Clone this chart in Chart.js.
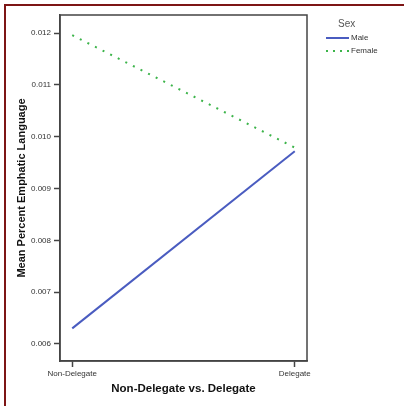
<!DOCTYPE html>
<html>
<head>
<meta charset="utf-8">
<script src="https://cdn.jsdelivr.net/npm/chart.js@4.4.1/dist/chart.umd.min.js"></script>
<style>
  html, body { margin: 0; padding: 0; background: #fff; }
  #wrap { position: relative; width: 404px; height: 406px; overflow: hidden; font-family: "Liberation Sans", Arial, sans-serif; }
  #frame { position: absolute; left: 4px; top: 4px; width: 420px; height: 420px;
           border-top: 2px solid #7d1515; border-left: 2px solid #7d1515; pointer-events: none; }
  #legend { position: absolute; left: 324px; top: 18px; font-size: 8px; color: #333; }
  #legend .title { position: absolute; left: 14px; top: 0; font-size: 10px; color: #555; }
  #legend .row { position: absolute; left: 0; height: 10px; white-space: nowrap; }
  #legend .row span { position: absolute; left: 27px; top: 0; line-height: 10px; }
  #legend .row i { position: absolute; left: 2px; top: 4px; width: 23px; height: 2px; }
</style>
</head>
<body>
<div id="wrap">
  <canvas id="chart" width="404" height="406"></canvas>
  <div id="frame"></div>
  <div id="legend">
    <div class="title">Sex</div>
    <div class="row" style="top:15px"><i style="background:#4a5cc0"></i><span>Male</span></div>
    <div class="row" style="top:28px"><i style="background:repeating-linear-gradient(90deg,#3cb44a 0 2px,transparent 2px 7px)"></i><span>Female</span></div>
  </div>
</div>
<script>
document.addEventListener('DOMContentLoaded', function() {
    // Categories and series (mean percent emphatic language)
    const categories = ['Non-Delegate', 'Delegate'];
    const maleValues = [0.0063, 0.00972];
    const femaleValues = [0.01196, 0.00979];
    const yTicks = [0.006, 0.007, 0.008, 0.009, 0.010, 0.011, 0.012];

    const toPoints = vals => vals.map((v, i) => ({ x: i, y: v }));

    // Draws the box round the plot area
    const boxPlugin = {
        id: 'plotBox',
        afterDraw(chart) {
            const a = chart.chartArea;
            const ctx = chart.ctx;
            ctx.save();
            ctx.strokeStyle = '#444';
            ctx.lineWidth = 1.5;
            ctx.strokeRect(a.left, a.top, a.right - a.left, a.bottom - a.top);
            ctx.restore();
        }
    };

    const ctx = document.getElementById('chart').getContext('2d');
    new Chart(ctx, {
        type: 'line',
        data: {
            datasets: [
                {
                    label: 'Male',
                    data: toPoints(maleValues),
                    borderColor: '#4a5cc0',
                    borderWidth: 2,
                    pointRadius: 0,
                    fill: false
                },
                {
                    label: 'Female',
                    data: toPoints(femaleValues),
                    borderColor: '#3cb44a',
                    borderWidth: 2,
                    borderDash: [2, 6.5],
                    pointRadius: 0,
                    fill: false
                }
            ]
        },
        options: {
            responsive: false,
            animation: false,
            layout: { padding: { top: 15, right: 97, left: 0, bottom: 0 } },
            plugins: {
                legend: { display: false },
                tooltip: { enabled: false }
            },
            scales: {
                x: {
                    type: 'linear',
                    min: -0.055,
                    max: 1.055,
                    afterBuildTicks: axis => { axis.ticks = categories.map((c, i) => ({ value: i })); },
                    afterFit: axis => { axis.height = 45; },
                    ticks: {
                        callback: v => categories[v],
                        color: '#333',
                        font: { family: 'Liberation Sans', size: 8 },
                        padding: 2,
                        maxRotation: 0
                    },
                    grid: { drawOnChartArea: false, drawTicks: true, tickLength: 6, tickColor: '#444', tickWidth: 1.5 },
                    border: { color: '#444', width: 1.5 },
                    title: {
                        display: true,
                        text: 'Non-Delegate vs. Delegate',
                        color: '#111',
                        font: { family: 'Liberation Sans', size: 11.5, weight: 'bold' },
                        padding: { top: 0, bottom: 10 }
                    }
                },
                y: {
                    min: 0.00567,
                    max: 0.01235,
                    afterBuildTicks: axis => { axis.ticks = yTicks.map(v => ({ value: v })); },
                    afterFit: axis => { axis.width = 60; },
                    ticks: {
                        callback: v => v.toFixed(3),
                        color: '#333',
                        font: { family: 'Liberation Sans', size: 8 },
                        padding: 3
                    },
                    grid: { drawOnChartArea: false, drawTicks: true, tickLength: 6, tickColor: '#444', tickWidth: 1.5 },
                    border: { color: '#444', width: 1.5 },
                    title: {
                        display: true,
                        text: 'Mean Percent Emphatic Language',
                        color: '#111',
                        font: { family: 'Liberation Sans', size: 11, weight: 'bold' },
                        padding: { top: 15, bottom: 0 }
                    }
                }
            }
        },
        plugins: [boxPlugin]
    });
});
</script>
</body>
</html>
